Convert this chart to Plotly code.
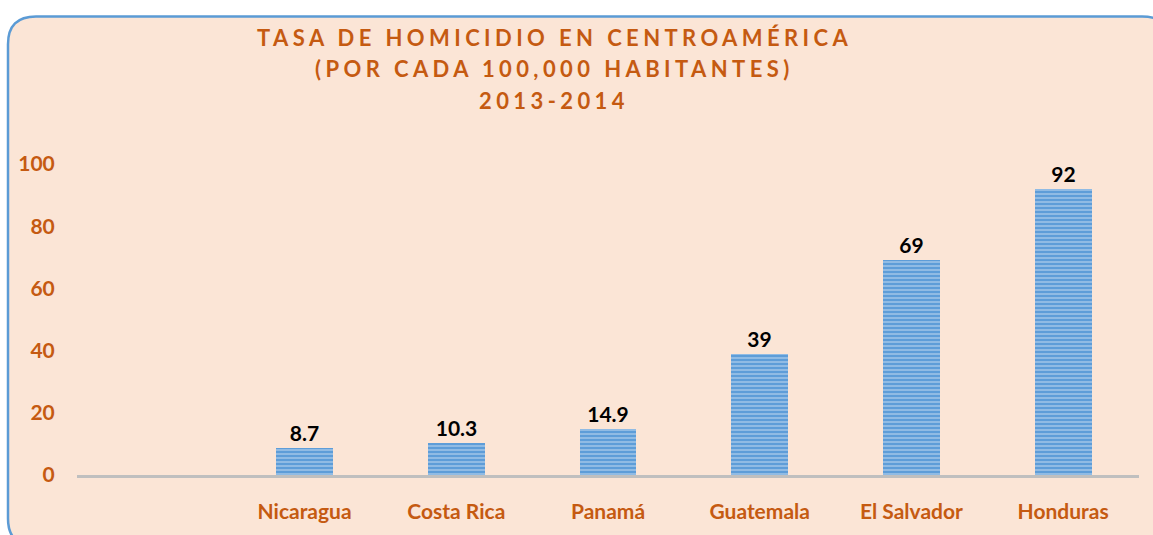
import plotly.graph_objects as go

# ---- data ----
categories = ["Nicaragua", "Costa Rica", "Panamá", "Guatemala", "El Salvador", "Honduras"]
values = [8.7, 10.3, 14.9, 39, 69, 92]
value_labels = ["8.7", "10.3", "14.9", "39", "69", "92"]
slot_positions = [1, 2, 3, 4, 5, 6]   # slot 0 is left empty, as in the original
y_ticks = [0, 20, 40, 60, 80, 100]
title_lines = ["TASA DE HOMICIDIO EN CENTROAMÉRICA",
               "(POR CADA 100,000 HABITANTES)",
               "2013-2014"]

W, H = 1153, 535
ML, MR, MT, MB = 77, 14, 164, 57
PW, PH = W - ML - MR, H - MT - MB

ORANGE = "#C55A11"
FONT = "Lato"

def px_x(px):
    return (px - ML) / PW

def px_y(py):
    return (H - MB - py) / PH

fig = go.Figure()
fig.add_trace(go.Bar(
    x=slot_positions, y=values,
    width=0.375,
    text=value_labels, textposition="outside", cliponaxis=False,
    textfont=dict(family=FONT, size=21, color="black", weight="bold"),
    marker=dict(
        color="#5B9BD5",
        line=dict(width=0),
        pattern=dict(shape="-", bgcolor="#5E9DD8", fgcolor="#DCEAF7",
                     size=4, solidity=0.4, fillmode="overlay"),
    ),
    hoverinfo="skip",
))

# rounded background panel
x0, x1 = px_x(8), px_x(1170)
y0, y1 = px_y(550), px_y(15)
rx = 28 / PW
ry = 28 / PH
path = (f"M {x0+rx},{y1} L {x1-rx},{y1} Q {x1},{y1} {x1},{y1-ry} "
        f"L {x1},{y0+ry} Q {x1},{y0} {x1-rx},{y0} L {x0+rx},{y0} "
        f"Q {x0},{y0} {x0},{y0+ry} L {x0},{y1-ry} Q {x0},{y1} {x0+rx},{y1} Z")
fig.add_shape(type="path", path=path, xref="paper", yref="paper",
              fillcolor="#FBE5D6", line=dict(color="#5B9BD5", width=2.5),
              layer="below")

title_y = [36, 68, 100]
for line, py in zip(title_lines, title_y):
    fig.add_annotation(
        text=f'<span style="letter-spacing:4.4px">{line}</span>',
        x=px_x(554), y=px_y(py), xref="paper", yref="paper",
        showarrow=False, xanchor="center", yanchor="middle",
        font=dict(family=FONT, size=22, color=ORANGE, weight="bold"),
    )

fig.update_layout(
    width=W, height=H,
    margin=dict(l=ML, r=MR, t=MT, b=MB),
    paper_bgcolor="white", plot_bgcolor="rgba(0,0,0,0)",
    showlegend=False,
    bargap=0,
)
fig.update_xaxes(
    range=[-0.5, 6.5], tickvals=slot_positions, ticktext=categories,
    showgrid=False, zeroline=False,
    showline=True, linecolor="#BFBFBF", linewidth=2.5,
    ticks="outside", ticklen=16, tickcolor="rgba(0,0,0,0)",
    tickfont=dict(family=FONT, size=21, color=ORANGE, weight="bold"),
)
fig.update_yaxes(
    range=[0, 100], tickvals=y_ticks,
    showgrid=False, zeroline=False, showline=False,
    ticks="outside", ticklen=17, tickcolor="rgba(0,0,0,0)",
    tickfont=dict(family=FONT, size=21, color=ORANGE, weight="bold"),
)

fig.write_html(
    "out.html",
    config={"displayModeBar": False},
    post_script="document.body.style.margin='0';document.body.style.overflow='hidden';",
)
